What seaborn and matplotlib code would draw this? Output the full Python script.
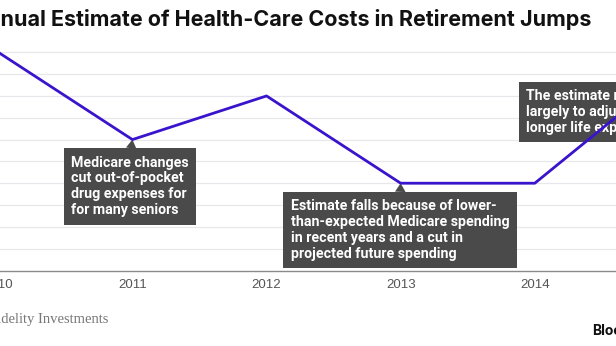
import matplotlib
matplotlib.use("Agg")
import matplotlib.pyplot as plt
import seaborn as sns
import pandas as pd

years = [2010, 2011, 2012, 2013, 2014, 2015]
estimate_k = [250, 230, 240, 220, 220, 245]
tick_years = [2010, 2011, 2012, 2013, 2014, 2015]
tick_labels = ["2010", "2011", "2012", "2013", "2014", "2015"]
grid_values = [205, 210, 215, 220, 225, 230, 235, 240, 245, 250]

title = "Annual Estimate of Health-Care Costs in Retirement Jumps"
source = "Source: Fidelity Investments"
note_2011 = "Medicare changes\ncut out-of-pocket\ndrug expenses for\nfor many seniors"
note_2013 = "Estimate falls because of lower-\nthan-expected Medicare spending\nin recent years and a cut in\nprojected future spending"
note_2015 = "The estimate rose\nlargely to adjust for\nlonger life expectancies"

df = pd.DataFrame({"year": years, "estimate": estimate_k})

sns.set_style("white")
plt.rcParams["font.family"] = ["Liberation Sans", "DejaVu Sans"]

W, H = 616, 346
fig = plt.figure(figsize=(W / 100, H / 100), dpi=100)
fig.patch.set_facecolor("white")

# axes placement (chart is cropped on both sides)
px_2010, px_2015 = -1.7, 668.9
py_200, py_250 = 270.5, 52.3
ylo, yhi = 200, 251
ppk = (py_200 - py_250) / 50.0
left = px_2010 / W
width = (px_2015 - px_2010) / W
bottom = 1 - py_200 / H
height = (yhi - ylo) * ppk / H
ax = fig.add_axes([left, bottom, width, height])
ax.set_xlim(2010, 2015)
ax.set_ylim(ylo, yhi)

for g in grid_values:
    ax.axhline(g, color="#e8e8ec", lw=0.9, zorder=0)

sns.lineplot(data=df, x="year", y="estimate", ax=ax, color="#3a14cc",
             lw=2.0, zorder=5, clip_on=False)

for s in ["top", "right", "left"]:
    ax.spines[s].set_visible(False)
ax.spines["bottom"].set_color("#8a8a8a")
ax.spines["bottom"].set_linewidth(1.0)
ax.set_xticks(tick_years)
ax.set_xticklabels(tick_labels)
ax.tick_params(axis="x", colors="#8a8a8a", length=4, width=1.0,
               labelcolor="#555555", labelsize=9.5, pad=2)
ax.tick_params(axis="y", left=False, labelleft=False)
ax.set_xlabel("")
ax.set_ylabel("")

box_col = "#4a4a4a"
box_font = dict(color="white", fontsize=10.2, fontweight="bold",
                family=["Roboto", "DejaVu Sans"], linespacing=1.17)
bbox = dict(boxstyle="square,pad=0.52", fc=box_col, ec="none")
wedge = dict(arrowstyle="wedge,tail_width=0.75,shrink_factor=0.5",
             fc=box_col, ec="none", relpos=(0.5, 1.0), shrinkA=0, shrinkB=0)

ax.annotate(note_2011, xy=(2011, 230), xytext=(-61, -16),
            textcoords="offset pixels", ha="left", va="top", bbox=bbox,
            arrowprops=wedge, zorder=3, **box_font)
ax.annotate(note_2013, xy=(2013, 220), xytext=(-110, -16),
            textcoords="offset pixels", ha="left", va="top", bbox=bbox,
            arrowprops=wedge, zorder=3, **box_font)
ax.annotate(note_2015, xy=(2015, 245), xytext=(-143, -15),
            textcoords="offset pixels", ha="left", va="top", bbox=bbox,
            zorder=3, annotation_clip=False, **box_font)

renderer = fig.canvas.get_renderer()

def fit_text(full, visible, x_right, y, target_w, base_size, **kw):
    probe = fig.text(0, 0, visible, fontsize=base_size, **kw)
    w = probe.get_window_extent(renderer).width
    probe.remove()
    size = base_size * target_w / w
    fig.text(x_right / W, 1 - y / H, full, ha="right", va="center",
             fontsize=size, **kw)

fit_text(title, "nual Estimate of Health-Care Costs in Retirement Jumps",
         591, 20, 591, 13, fontweight="bold", color="#111111",
         family=["Inter", "DejaVu Sans"])
fit_text(source, "delity Investments", 108, 319, 108, 10,
         color="#777777", family=["Liberation Serif", "DejaVu Serif"])
fig.text(592 / W, 1 - 331 / H, "Bloomberg", ha="left", va="center",
         fontsize=10, fontweight="bold", color="#111111",
         family=["Inter", "DejaVu Sans"])

fig.savefig("out.png", dpi=100, facecolor="white")
